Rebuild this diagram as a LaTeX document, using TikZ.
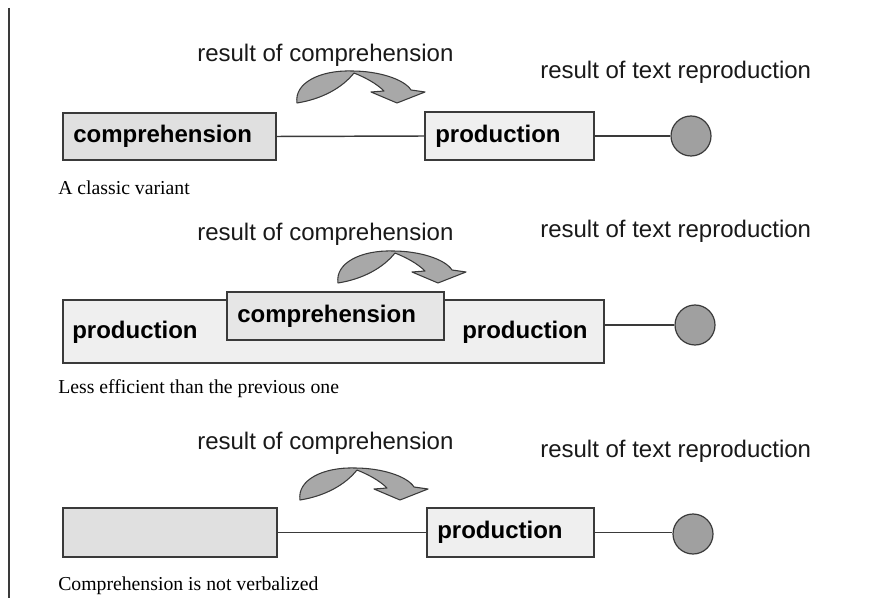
\documentclass[tikz,border=0pt]{standalone}
\usepackage{fontspec}
\setmainfont{Liberation Serif}
\setsansfont{Liberation Sans}
\definecolor{boxline}{HTML}{3A3A3A}
\definecolor{fillA}{HTML}{E0E0E0}
\definecolor{fillB}{HTML}{EFEFEF}
\definecolor{fillC}{HTML}{E6E6E6}
\definecolor{circfill}{HTML}{A0A0A0}
\definecolor{arrowfill}{HTML}{A8A8A8}
\tikzset{
  box/.style={draw=boxline, line width=1.5pt, inner sep=0pt, anchor=north west},
  lbl/.style={anchor=base west, inner sep=0pt, text=black!90, font=\sffamily\fontsize{18}{20}\selectfont},
  blbl/.style={anchor=base west, inner sep=0pt, text=black, font=\sffamily\bfseries\fontsize{18}{20}\selectfont},
  captxt/.style={anchor=base west, inner sep=0pt, text=black, font=\rmfamily\fontsize{14.8}{16}\selectfont},
  res/.style={circle, draw=boxline, line width=0.9pt, fill=circfill, minimum size=30pt, inner sep=0pt},
  conn/.style={draw=boxline, line width=1.1pt},
  curvarrow/.pic={
    \path[draw=boxline, line width=0.8pt, fill=arrowfill, line join=round]
      (-55,32) .. controls (-58,12) and (-32,-1) .. (0,0)
      .. controls (26,0) and (52,8) .. (59,19)
      -- (73,21) -- (45,32) -- (19,21) -- (32,20)
      .. controls (24,12) and (12,6) .. (2,2)
      .. controls (-10,17) and (-30,28) .. (-55,32) -- cycle;
  }
}
\begin{document}
\begin{tikzpicture}[x=0.75pt,y=-0.75pt]
\useasboundingbox (0,0) rectangle (888,598);
% left rule
\coordinate (vtop) at (9,8);
\coordinate (vbot) at (9,598);
\draw[boxline, line width=1pt] (vtop) -- (vbot);

% ---------- panel 1 ----------
\node[lbl] (r1) at (197,62) {result of comprehension};
\node[lbl] (t1) at (540,79) {result of text reproduction};
\pic at (352,71) {curvarrow};
\node[box, fill=fillA, minimum width=213*0.75pt, minimum height=47*0.75pt] (c1) at (62,112) {};
\node[blbl] (c1t) at (73,143) {comprehension};
\node[box, fill=fillB, minimum width=169*0.75pt, minimum height=48*0.75pt] (p1) at (424,111) {};
\node[blbl] (p1t) at (435,143) {production};
\node[res] (o1) at (691,136) {};
\draw[conn] (c1.east) -- (p1.west);
\draw[conn] (p1.east) -- (p1.east -| o1.west);
\node[captxt] (k1) at (58,195) {A classic variant};

% ---------- panel 2 ----------
\node[lbl] (r2) at (197,241) {result of comprehension};
\node[lbl] (t2) at (540,238) {result of text reproduction};
\pic at (393,251) {curvarrow};
\node[box, fill=fillB, minimum width=541*0.75pt, minimum height=63*0.75pt] (q2) at (62,299) {};
\node[box, fill=fillC, minimum width=217*0.75pt, minimum height=48*0.75pt] (c2) at (226,291) {};
\node[blbl] (q2a) at (72,339) {production};
\node[blbl] (c2t) at (237,323) {comprehension};
\node[blbl] (q2b) at (462,339) {production};
\node[res] (o2) at (695,325) {};
\draw[conn] (o2.west -| q2.east) -- (o2.west);
\node[captxt] (k2) at (58,393) {Less efficient than the previous one};

% ---------- panel 3 ----------
\node[lbl] (r3) at (197,449) {result of comprehension};
\node[lbl] (t3) at (540,457) {result of text reproduction};
\pic at (355,468) {curvarrow};
\node[box, fill=fillA, minimum width=214*0.75pt, minimum height=49*0.75pt] (e3) at (62,507) {};
\node[box, fill=fillB, minimum width=167*0.75pt, minimum height=49*0.75pt] (p3) at (426,507) {};
\node[blbl] (p3t) at (437,538) {production};
\node[res] (o3) at (693,534) {};
\draw[conn] (e3.east) -- (p3.west);
\draw[conn] (p3.east) -- (p3.east -| o3.west);
\node[captxt] (k3) at (58,590) {Comprehension is not verbalized};
\end{tikzpicture}
\end{document}
